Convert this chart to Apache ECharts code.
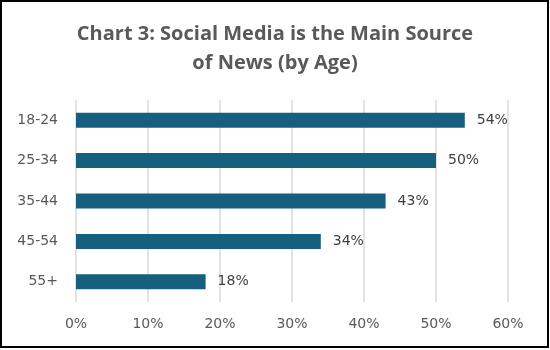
<!DOCTYPE html>
<html><head><meta charset="utf-8">
<script src="https://cdn.jsdelivr.net/npm/echarts@6/dist/echarts.min.js"></script>
<style>html,body{margin:0;padding:0;background:#fff}#c{width:550px;height:350px}</style>
</head><body><div id="c"></div>
<script>
const titleText = 'Chart 3: Social Media is the Main Source\nof News (by Age)';
const categories = ['18-24', '25-34', '35-44', '45-54', '55+'];
const values = [54, 50, 43, 34, 18];
const xTicks = [0, 10, 20, 30, 40, 50, 60];

const chart = echarts.init(document.getElementById('c'));
chart.setOption({
  animation: false,
  title: {
    text: titleText, left: 'center', top: 15,
    textStyle: { fontFamily: 'Open Sans', fontWeight: 'bold', fontSize: 20, color: '#595959', lineHeight: 29 }
  },
  graphic: [{ type: 'rect', shape: { x: 1, y: 1, width: 547, height: 346 }, style: { fill: 'none', stroke: '#000', lineWidth: 2 }, silent: true }],
  grid: { left: 76, right: 42, top: 100, bottom: 48 },
  xAxis: {
    type: 'value', min: xTicks[0], max: xTicks[xTicks.length - 1], interval: 10,
    axisLine: { show: false }, axisTick: { show: false },
    splitLine: { lineStyle: { color: '#d9d9d9', width: 1.5 } },
    axisLabel: { formatter: v => v + '%', color: '#595959', fontFamily: 'DejaVu Sans', fontSize: 14, margin: 15 }
  },
  yAxis: {
    type: 'category', data: categories, inverse: true,
    axisLine: { show: false }, axisTick: { show: false },
    axisLabel: { color: '#595959', fontFamily: 'DejaVu Sans', fontSize: 14, margin: 18 }
  },
  series: [{
    type: 'bar', data: values, barWidth: 15,
    itemStyle: { color: '#175f7f' },
    label: { show: true, position: 'right', distance: 12, formatter: p => p.value + '%', color: '#404040', fontFamily: 'DejaVu Sans', fontSize: 14 }
  }]
});
</script></body></html>
